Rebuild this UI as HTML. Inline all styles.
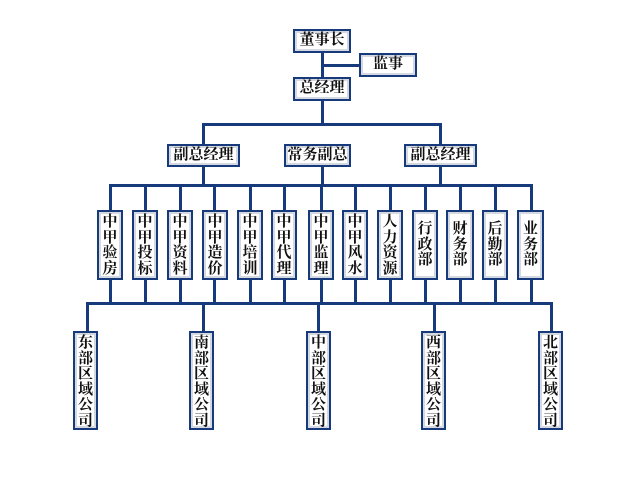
<!DOCTYPE html>
<html><head><meta charset="utf-8"><style>
body{margin:0;width:632px;height:482px;background:#fff;position:relative;overflow:hidden;font-family:"Liberation Serif","Noto Serif CJK SC",serif;}
.l{position:absolute;background:#163a7c;}
.b{position:absolute;box-sizing:border-box;border:2px solid #163a7c;background:#fff;box-shadow:inset 0 0 0 2px #d4d8e0;color:#111;text-align:center;overflow:hidden;}
.h{font-size:15px;line-height:19px;font-weight:bold;}
.v{font-size:15px;line-height:15.5px;padding-top:3px;font-weight:bold;}
.w{line-height:15.5px;padding-top:3px;}
</style></head><body>
<div class="l" style="left:321px;top:52px;width:3px;height:27px"></div>
<div class="l" style="left:321px;top:64px;width:39px;height:3px"></div>
<div class="l" style="left:321px;top:100px;width:3px;height:25px"></div>
<div class="l" style="left:202px;top:123px;width:240px;height:3px"></div>
<div class="l" style="left:202px;top:123px;width:3px;height:22px"></div>
<div class="l" style="left:439px;top:123px;width:3px;height:22px"></div>
<div class="l" style="left:202px;top:166px;width:3px;height:20px"></div>
<div class="l" style="left:321px;top:166px;width:3px;height:20px"></div>
<div class="l" style="left:439px;top:166px;width:3px;height:20px"></div>
<div class="l" style="left:109px;top:184px;width:424px;height:3px"></div>
<div class="l" style="left:109px;top:184px;width:3px;height:120px"></div>
<div class="l" style="left:144px;top:184px;width:3px;height:120px"></div>
<div class="l" style="left:179px;top:184px;width:3px;height:120px"></div>
<div class="l" style="left:213px;top:184px;width:3px;height:120px"></div>
<div class="l" style="left:249px;top:184px;width:3px;height:120px"></div>
<div class="l" style="left:283px;top:184px;width:3px;height:120px"></div>
<div class="l" style="left:320px;top:184px;width:3px;height:120px"></div>
<div class="l" style="left:354px;top:184px;width:3px;height:120px"></div>
<div class="l" style="left:389px;top:184px;width:3px;height:120px"></div>
<div class="l" style="left:424px;top:184px;width:3px;height:120px"></div>
<div class="l" style="left:459px;top:184px;width:3px;height:120px"></div>
<div class="l" style="left:494px;top:184px;width:3px;height:120px"></div>
<div class="l" style="left:530px;top:184px;width:3px;height:120px"></div>
<div class="l" style="left:86px;top:302px;width:467px;height:3px"></div>
<div class="l" style="left:86px;top:302px;width:3px;height:30px"></div>
<div class="l" style="left:202px;top:302px;width:3px;height:30px"></div>
<div class="l" style="left:317px;top:302px;width:3px;height:30px"></div>
<div class="l" style="left:433px;top:302px;width:3px;height:30px"></div>
<div class="l" style="left:550px;top:302px;width:3px;height:30px"></div>
<div class="b h" style="left:293px;top:29px;width:58px;height:24px">董事长</div>
<div class="b h" style="left:359px;top:53px;width:58px;height:24px">监事</div>
<div class="b h" style="left:293px;top:77px;width:58px;height:24px">总经理</div>
<div class="b h" style="left:167px;top:144px;width:73px;height:23px">副总经理</div>
<div class="b h" style="left:284px;top:144px;width:67px;height:23px">常务副总</div>
<div class="b h" style="left:404px;top:144px;width:73px;height:23px">副总经理</div>
<div class="b v" style="left:97px;top:210px;width:26px;height:70px">中甲验房</div>
<div class="b v" style="left:132px;top:210px;width:26px;height:70px">中甲投标</div>
<div class="b v" style="left:167px;top:210px;width:26px;height:70px">中甲资料</div>
<div class="b v" style="left:202px;top:210px;width:26px;height:70px">中甲造价</div>
<div class="b v" style="left:237px;top:210px;width:26px;height:70px">中甲培训</div>
<div class="b v" style="left:271px;top:210px;width:26px;height:70px">中甲代理</div>
<div class="b v" style="left:308px;top:210px;width:26px;height:70px">中甲监理</div>
<div class="b v" style="left:342px;top:210px;width:26px;height:70px">中甲风水</div>
<div class="b v" style="left:377px;top:210px;width:26px;height:70px">人力资源</div>
<div class="b v" style="left:412px;top:210px;width:26px;height:70px;padding-top:10px">行政部</div>
<div class="b v" style="left:446px;top:210px;width:28px;height:70px;padding-top:10px">财务部</div>
<div class="b v" style="left:482px;top:210px;width:26px;height:70px;padding-top:10px">后勤部</div>
<div class="b v" style="left:517px;top:210px;width:27px;height:70px;padding-top:10px">业务部</div>
<div class="b v w" style="left:73px;top:331px;width:25px;height:99px">东部区域公司</div>
<div class="b v w" style="left:189px;top:331px;width:25px;height:99px">南部区域公司</div>
<div class="b v w" style="left:306px;top:331px;width:25px;height:99px">中部区域公司</div>
<div class="b v w" style="left:421px;top:331px;width:25px;height:99px">西部区域公司</div>
<div class="b v w" style="left:538px;top:331px;width:25px;height:99px">北部区域公司</div>
</body></html>
